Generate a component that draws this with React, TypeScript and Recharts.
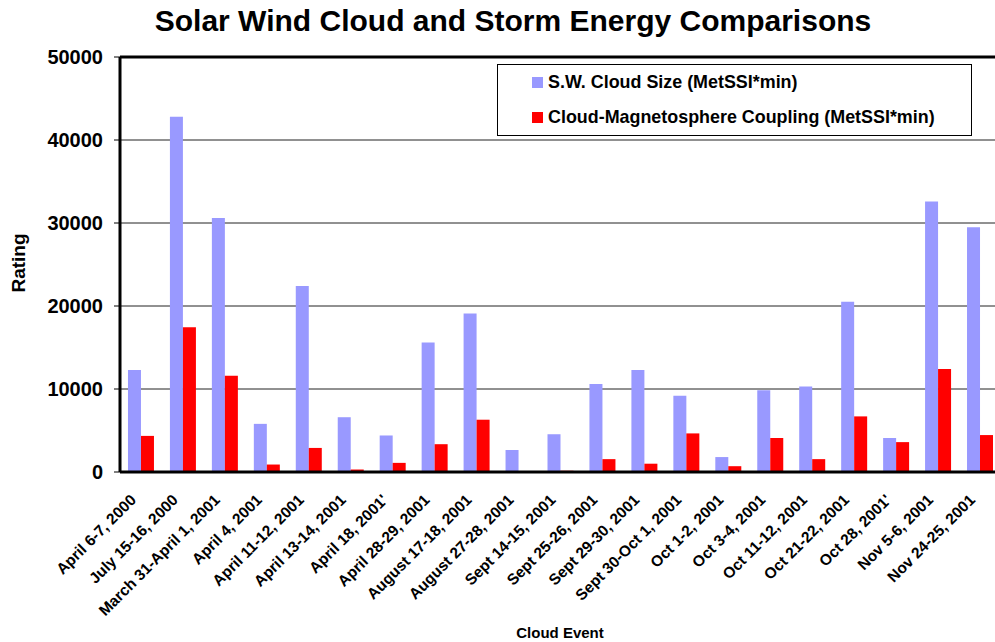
import React from 'react'
import { BarChart, Bar, XAxis, YAxis, CartesianGrid, Legend, ReferenceLine } from 'recharts'

const FONT = '"Liberation Sans", Arial, Helvetica, sans-serif'

const events = [
  'April 6-7, 2000', 'July 15-16, 2000', 'March 31-April 1, 2001', 'April 4, 2001',
  'April 11-12, 2001', 'April 13-14, 2001', "April 18, 2001'", 'April 28-29, 2001',
  'August 17-18, 2001', 'August 27-28, 2001', 'Sept 14-15, 2001', 'Sept 25-26, 2001',
  'Sept 29-30, 2001', 'Sept 30-Oct 1, 2001', 'Oct 1-2, 2001', 'Oct 3-4, 2001',
  'Oct 11-12, 2001', 'Oct 21-22, 2001', "Oct 28, 2001'", 'Nov 5-6, 2001', 'Nov 24-25, 2001',
]

const cloudSize = [
  12300, 42800, 30600, 5800, 22400, 6600, 4400, 15600, 19100, 2650, 4550,
  10600, 12300, 9200, 1800, 9850, 10300, 20500, 4100, 32600, 29500,
]

const coupling = [
  4350, 17450, 11600, 900, 2900, 300, 1100, 3350, 6300, 100, 150,
  1550, 1000, 4650, 700, 4100, 1550, 6700, 3600, 12400, 4450,
]

const yTicks = [0, 10000, 20000, 30000, 40000, 50000]
const seriesKeys = ['size', 'coupling']

const data = events.map((event, i) => ({ event, size: cloudSize[i], coupling: coupling[i] }))
const edgeTicks = events.map((_, i) => i).concat(events.length)

const EventTick = ({ x, y, payload }: any) => (
  <g transform={`translate(${x - 4},${y + 28})`}>
    <text x={0} y={0} transform="rotate(-45)" textAnchor="end"
      fontFamily={FONT} fontWeight="bold" fontSize={15.5} fill="#000">
      {payload.value}
    </text>
  </g>
)

const LegendBox = ({ payload }: any) => {
  const items = [...(payload || [])].sort((a: any, b: any) => seriesKeys.indexOf(a.dataKey) - seriesKeys.indexOf(b.dataKey))
  return (
    <div style={{ border: '1px solid #000', width: 475, height: 72, boxSizing: 'border-box',
      background: '#fff', fontFamily: FONT, fontWeight: 'bold', fontSize: 17.9 }}>
      {items.map((p: any) => (
        <div key={p.value} style={{ display: 'flex', alignItems: 'center', height: 35, paddingLeft: 34 }}>
          <span style={{ width: 11, height: 11, background: p.color, marginRight: 5 }} />
          <span>{p.value}</span>
        </div>
      ))}
    </div>
  )
}

export default function App() {
  return (
    <div style={{ position: 'absolute', left: 0, top: 0, width: 995, height: 642, overflow: 'hidden', background: '#fff' }}>
      <div style={{ position: 'absolute', left: 0, top: 4, width: 1026, textAlign: 'center',
        fontFamily: FONT, fontWeight: 'bold', fontSize: 30, lineHeight: '34px', color: '#000', whiteSpace: 'nowrap' }}>
        Solar Wind Cloud and Storm Energy Comparisons
      </div>
      <div style={{ position: 'absolute', left: 19, top: 263, transform: 'translate(-50%, -50%) rotate(-90deg)',
        fontFamily: FONT, fontWeight: 'bold', fontSize: 19, color: '#000', whiteSpace: 'nowrap' }}>
        Rating
      </div>
      <div style={{ position: 'absolute', left: 560, top: 632, transform: 'translate(-50%, -50%)',
        fontFamily: FONT, fontWeight: 'bold', fontSize: 15, color: '#000', whiteSpace: 'nowrap' }}>
        Cloud Event
      </div>

      <BarChart width={1010} height={642} data={data}
        margin={{ top: 57, right: 9, bottom: 0, left: 0 }}
        barCategoryGap="19%" barGap={0}>
        <CartesianGrid vertical={false} stroke="#222" xAxisId="b" />
        <XAxis xAxisId="b" dataKey="event" interval={0} height={169}
          tickLine={false} axisLine={false} tickSize={0} tickMargin={0} tick={<EventTick />} />
        <XAxis xAxisId="a" type="number" domain={[0, events.length]} allowDataOverflow
          ticks={edgeTicks} tick={false} height={1} tickSize={6}
          tickLine={{ stroke: '#000', strokeWidth: 1 }}
          axisLine={{ stroke: '#000', strokeWidth: 3 }} />
        <YAxis width={120} domain={[0, 50000]} ticks={yTicks} interval={0}
          tickSize={6} tickMargin={11}
          tickLine={{ stroke: '#000' }} axisLine={{ stroke: '#000', strokeWidth: 3 }}
          tick={{ fontFamily: FONT, fontWeight: 'bold', fontSize: 20, fill: '#000' }} />
        <ReferenceLine y={50000} xAxisId="b" stroke="#000" strokeWidth={3} />
        <ReferenceLine x={events.length} xAxisId="a" stroke="#000" strokeWidth={3} />
        <Legend layout="vertical" align="center" verticalAlign="middle" content={<LegendBox />}
          wrapperStyle={{ position: 'absolute', left: 497, top: 64, width: 475, height: 72 }} />
        <Bar xAxisId="b" dataKey="size" name="S.W. Cloud Size (MetSSI*min)" fill="#9999FF" isAnimationActive={false} />
        <Bar xAxisId="b" dataKey="coupling" name="Cloud-Magnetosphere Coupling (MetSSI*min)" fill="#FF0000" isAnimationActive={false} />
      </BarChart>
    </div>
  )
}
